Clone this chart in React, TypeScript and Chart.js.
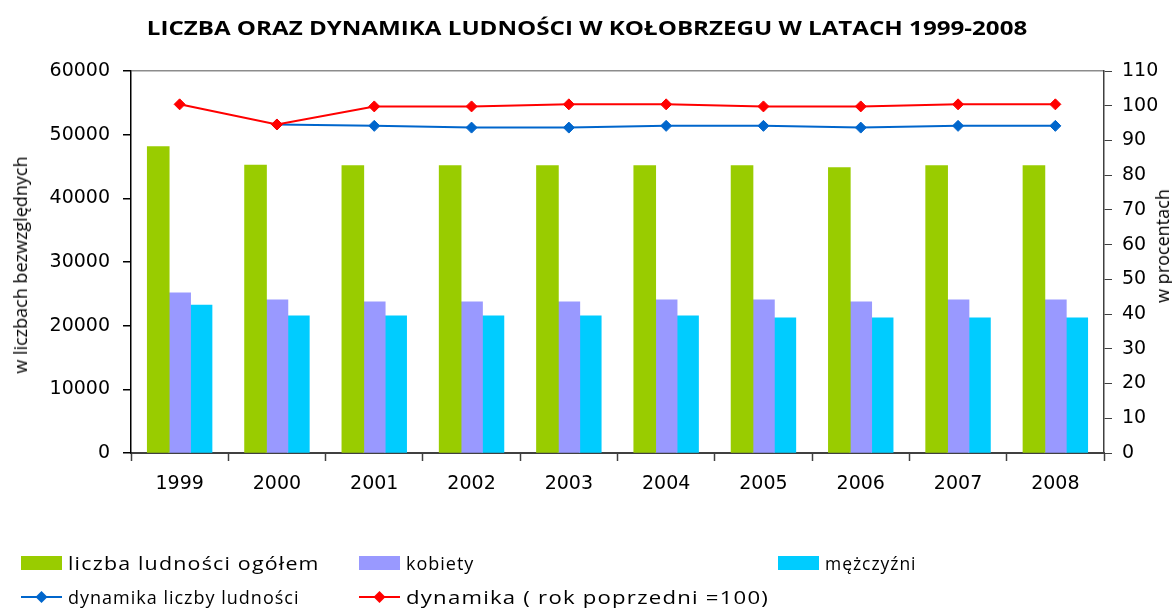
import React, { useEffect, useRef } from "react";
import { Chart, registerables } from "chart.js";

Chart.register(...registerables);

const years = ["1999", "2000", "2001", "2002", "2003", "2004", "2005", "2006", "2007", "2008"];
const totalPopulation = [48100, 45200, 45100, 45100, 45100, 45100, 45100, 44800, 45100, 45100];
const women = [25100, 24000, 23700, 23700, 23700, 24000, 24000, 23700, 24000, 24000];
const men = [23200, 21500, 21500, 21500, 21500, 21500, 21200, 21200, 21200, 21200];
const dynamicsPopulation = [null, 94.6, 94.2, 93.7, 93.7, 94.2, 94.2, 93.7, 94.2, 94.2];
const dynamicsPrevYear = [100.4, 94.6, 99.8, 99.8, 100.4, 100.4, 99.8, 99.8, 100.4, 100.4];

const leftTicks = { min: 0, max: 60000, step: 10000 };
const rightTicks = { min: 0, max: 110, step: 10 };

const titleText = "LICZBA ORAZ DYNAMIKA LUDNOŚCI W KOŁOBRZEGU W LATACH 1999-2008";
const leftAxisTitle = "w liczbach bezwzględnych";
const rightAxisTitle = "w procentach";

const labelTotal = "liczba ludności ogółem";
const labelWomen = "kobiety";
const labelMen = "mężczyźni";
const labelDynPop = "dynamika liczby ludności";
const labelDynPrev = "dynamika ( rok poprzedni =100)";

const GREEN = "#99CC00";
const PURPLE = "#9999FF";
const CYAN = "#00CCFF";
const BLUE = "#0066CC";
const RED = "#FF0000";

const tickFont = { family: "'DejaVu Sans', sans-serif", size: 19 };
const textFont = "'Open Sans', sans-serif";

type ItemProps = { left: number; top: number; color: string; text: string; stretch: number };

function ItemText({ text, stretch }: { text: string; stretch: number }) {
  return (
    <span
      style={{
        marginLeft: 6,
        fontFamily: textFont,
        fontSize: 18,
        letterSpacing: 1,
        color: "#000",
        whiteSpace: "nowrap",
        display: "inline-block",
        transform: `scaleX(${stretch})`,
        transformOrigin: "left center",
      }}
    >
      {text}
    </span>
  );
}

function BoxItem({ left, top, color, text, stretch }: ItemProps) {
  return (
    <div style={{ position: "absolute", left, top, height: 20, display: "flex", alignItems: "center" }}>
      <div style={{ width: 41, height: 14, background: color }} />
      <ItemText text={text} stretch={stretch} />
    </div>
  );
}

function LineItem({ left, top, color, text, stretch }: ItemProps) {
  return (
    <div style={{ position: "absolute", left, top, height: 20, display: "flex", alignItems: "center" }}>
      <svg width={41} height={14} style={{ display: "block" }}>
        <line x1={0} y1={7} x2={41} y2={7} stroke={color} strokeWidth={2} />
        <polygon points="20.5,1 26.5,7 20.5,13 14.5,7" fill={color} />
      </svg>
      <ItemText text={text} stretch={stretch} />
    </div>
  );
}

export default function App() {
  const canvasRef = useRef<HTMLCanvasElement | null>(null);

  useEffect(() => {
    const canvas = canvasRef.current;
    if (!canvas) return;
    const barCommon = { yAxisID: "y", categoryPercentage: 0.66, barPercentage: 1.0, borderWidth: 0, inflateAmount: 0.6, order: 2 };
    const chart = new Chart(canvas, {
      type: "bar",
      data: {
        labels: years,
        datasets: [
          {
            type: "line",
            label: labelDynPrev,
            data: dynamicsPrevYear,
            yAxisID: "y1",
            borderColor: RED,
            backgroundColor: RED,
            borderWidth: 2,
            pointStyle: "rectRot",
            pointRadius: 5.5,
            pointBorderWidth: 1,
            pointBackgroundColor: RED,
            pointBorderColor: RED,
            order: 0,
          },
          {
            type: "line",
            label: labelDynPop,
            data: dynamicsPopulation,
            yAxisID: "y1",
            borderColor: BLUE,
            backgroundColor: BLUE,
            borderWidth: 2,
            pointStyle: "rectRot",
            pointRadius: 5.5,
            pointBorderWidth: 1,
            pointBackgroundColor: BLUE,
            pointBorderColor: BLUE,
            order: 1,
          },
          { type: "bar", label: labelTotal, data: totalPopulation, backgroundColor: GREEN, ...barCommon },
          { type: "bar", label: labelWomen, data: women, backgroundColor: PURPLE, ...barCommon },
          { type: "bar", label: labelMen, data: men, backgroundColor: CYAN, ...barCommon },
        ],
      },
      options: {
        responsive: false,
        animation: false,
        layout: { padding: { top: 71, left: 0, right: 0, bottom: 0 } },
        plugins: {
          legend: { display: false },
          title: { display: false },
          tooltip: { enabled: false },
        },
        scales: {
          x: {
            grid: {
              display: true,
              drawOnChartArea: false,
              offset: true,
              tickLength: 8,
              tickColor: "#404040",
              tickWidth: 1.5,
            },
            border: { color: "#404040", width: 2 },
            ticks: { font: tickFont, color: "#000", padding: 12 },
            afterFit: (s: any) => {
              s.height = 155;
            },
          },
          y: {
            position: "left",
            min: leftTicks.min,
            max: leftTicks.max,
            ticks: {
              stepSize: leftTicks.step,
              font: tickFont,
              color: "#000",
              padding: 13,
              callback: (v: any) => String(v),
            },
            grid: {
              drawOnChartArea: true,
              color: (c: any) => (c.tick && c.tick.value === leftTicks.max ? "#8c8c8c" : "rgba(0,0,0,0)"),
              lineWidth: 1.5,
              tickColor: "#000",
              tickLength: 8,
            },
            border: { color: "#000", width: 1.5 },
            afterFit: (s: any) => {
              s.width = 131;
            },
          },
          y1: {
            position: "right",
            min: rightTicks.min,
            max: rightTicks.max,
            ticks: {
              stepSize: rightTicks.step,
              font: tickFont,
              color: "#000",
              padding: 10,
              callback: (v: any) => String(v),
            },
            grid: { drawOnChartArea: false, tickColor: "#404040", tickLength: 8 },
            border: { color: "#404040", width: 1.5 },
            afterFit: (s: any) => {
              s.width = 68;
            },
          },
        },
      },
    } as any);
    return () => chart.destroy();
  }, []);

  return (
    <div style={{ position: "fixed", left: 0, top: 0, width: 1172, height: 608, background: "#fff", overflow: "hidden" }}>
      <canvas ref={canvasRef} width={1172} height={608} style={{ position: "absolute", left: 0, top: 0, width: 1172, height: 608 }} />
      <div
        style={{
          position: "absolute",
          left: 587,
          top: 28,
          transform: "translate(-50%, -50%) scaleX(1.27)",
          fontFamily: textFont,
          fontWeight: 700,
          fontSize: 19,
          whiteSpace: "nowrap",
          color: "#000",
        }}
      >
        {titleText}
      </div>
      <div
        style={{
          position: "absolute",
          left: 20,
          top: 265,
          transform: "translate(-50%, -50%) rotate(-90deg)",
          fontFamily: textFont,
          fontSize: 18,
          whiteSpace: "nowrap",
          color: "#000",
        }}
      >
        {leftAxisTitle}
      </div>
      <div
        style={{
          position: "absolute",
          left: 1162,
          top: 246,
          transform: "translate(-50%, -50%) rotate(-90deg)",
          fontFamily: textFont,
          fontSize: 18,
          whiteSpace: "nowrap",
          color: "#000",
        }}
      >
        {rightAxisTitle}
      </div>
      <BoxItem left={21} top={553} color={GREEN} text={labelTotal} stretch={1.19} />
      <BoxItem left={359} top={553} color={PURPLE} text={labelWomen} stretch={1} />
      <BoxItem left={778} top={553} color={CYAN} text={labelMen} stretch={0.97} />
      <LineItem left={21} top={587} color={BLUE} text={labelDynPop} stretch={1} />
      <LineItem left={359} top={587} color={RED} text={labelDynPrev} stretch={1.23} />
    </div>
  );
}
